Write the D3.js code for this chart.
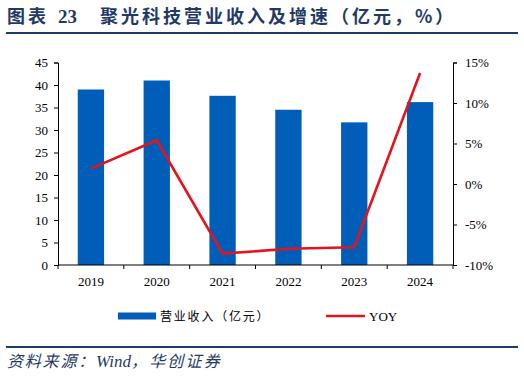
<!DOCTYPE html>
<html>
<head>
<meta charset="utf-8">
<script src="https://cdn.jsdelivr.net/npm/d3@7"></script>
<style>
  body { margin: 0; background: #fff; }
  svg { display: block; }
</style>
</head>
<body>
<script>
const WIDTH = 524;
const HEIGHT = 378;

// 数据
const years = ['2019', '2020', '2021', '2022', '2023', '2024'];
const revenue = [39.0, 41.0, 37.6, 34.5, 31.7, 36.2];   // 营业收入（亿元）
const yoy = [1.9, 5.4, -8.6, -8.0, -7.8, 13.7];          // YOY（%）
const leftTicks = [0, 5, 10, 15, 20, 25, 30, 35, 40, 45];
const rightTicks = [-10, -5, 0, 5, 10, 15];

const NAVY = '#1F3A68';
const BLUE = '#005EB8';
const RED = '#E3141E';
const SERIF = '"Liberation Serif", "Times New Roman", serif';
const CJK = '"Noto Sans CJK SC", sans-serif';

let svg = d3.select('body').append('svg')
    .attr('width', WIDTH)
    .attr('height', HEIGHT);

// 标题
let title = svg.append('g')
    .attr('fill', NAVY)
    .style('font-weight', 'bold');
title.append('text')
    .attr('x', 7).attr('y', 23)
    .style('font-family', CJK)
    .style('font-size', '18px')
    .style('letter-spacing', '3px')
    .text('图表');
title.append('text')
    .attr('x', 58).attr('y', 23)
    .style('font-family', SERIF)
    .style('font-size', '19px')
    .text('23');
title.append('text')
    .attr('x', 100).attr('y', 23)
    .style('font-family', CJK)
    .style('font-size', '18px')
    .style('letter-spacing', '3px')
    .text('聚光科技营业收入及增速（亿元，%）');

svg.append('line')
    .attr('x1', 6).attr('x2', 518)
    .attr('y1', 33).attr('y2', 33)
    .attr('stroke', NAVY).attr('stroke-width', 2);

const margin = { left: 58, right: 453, top: 62.5, bottom: 265 };

let x = d3.scaleBand()
    .domain(years)
    .range([margin.left, margin.right])
    .paddingInner(0.6)
    .paddingOuter(0.3);

let yL = d3.scaleLinear().domain([0, 45]).range([margin.bottom, margin.top]);
let yR = d3.scaleLinear().domain([-10, 15]).range([margin.bottom, margin.top]);

// 柱
svg.append('g').selectAll('rect')
    .data(revenue)
    .join('rect')
    .attr('x', (d, i) => x(years[i]))
    .attr('y', d => yL(d))
    .attr('width', x.bandwidth())
    .attr('height', d => yL(0) - yL(d))
    .attr('fill', BLUE);

// 折线
let line = d3.line()
    .x((d, i) => x(years[i]) + x.bandwidth() / 2)
    .y(d => yR(d));

svg.append('path')
    .datum(yoy)
    .attr('d', line)
    .attr('fill', 'none')
    .attr('stroke', RED)
    .attr('stroke-width', 2.6)
    .attr('stroke-linejoin', 'miter');

// 坐标轴
let axisL = svg.append('g')
    .attr('transform', `translate(${margin.left},0)`)
    .call(d3.axisLeft(yL).tickValues(leftTicks).tickSize(4).tickPadding(6));

let axisR = svg.append('g')
    .attr('transform', `translate(${margin.right},0)`)
    .call(d3.axisRight(yR).tickValues(rightTicks).tickSize(4).tickPadding(8)
        .tickFormat(d => d + '%'));

// x 轴：刻度在类别之间
let bounds = d3.range(years.length + 1).map(i => margin.left + i * (margin.right - margin.left) / years.length);
let axisX = svg.append('g');
axisX.append('line')
    .attr('x1', margin.left).attr('x2', margin.right)
    .attr('y1', margin.bottom).attr('y2', margin.bottom)
    .attr('stroke', '#000');
axisX.selectAll('.tk')
    .data(bounds)
    .join('line')
    .attr('x1', d => d).attr('x2', d => d)
    .attr('y1', margin.bottom).attr('y2', margin.bottom + 4)
    .attr('stroke', '#000');
axisX.selectAll('text')
    .data(years)
    .join('text')
    .attr('x', d => x(d) + x.bandwidth() / 2)
    .attr('y', 286)
    .attr('text-anchor', 'middle')
    .style('font-family', SERIF)
    .style('font-size', '13px')
    .text(d => d);

[axisL, axisR].forEach(g => {
    g.select('.domain').attr('stroke', '#000');
    g.selectAll('.tick line').attr('stroke', '#000');
    g.selectAll('.tick text')
        .attr('fill', '#000')
        .style('font-family', SERIF)
        .style('font-size', '13px');
});

// 图例
let legend = svg.append('g');
legend.append('rect')
    .attr('x', 118).attr('y', 312.5)
    .attr('width', 38).attr('height', 7)
    .attr('fill', BLUE);
legend.append('text')
    .attr('x', 160).attr('y', 320.5)
    .style('font-family', CJK)
    .style('font-size', '12px')
    .style('letter-spacing', '1.8px')
    .text('营业收入（亿元）');
legend.append('line')
    .attr('x1', 326).attr('x2', 365)
    .attr('y1', 316).attr('y2', 316)
    .attr('stroke', RED).attr('stroke-width', 2.6);
legend.append('text')
    .attr('x', 369).attr('y', 320.5)
    .style('font-family', SERIF)
    .style('font-size', '13px')
    .text('YOY');

// 来源
svg.append('line')
    .attr('x1', 6).attr('x2', 518)
    .attr('y1', 347).attr('y2', 347)
    .attr('stroke', NAVY).attr('stroke-width', 2);
let src = svg.append('text')
    .attr('x', 7).attr('y', 367)
    .attr('fill', NAVY)
    .style('font-family', CJK)
    .style('font-style', 'italic')
    .style('font-size', '16px');
src.append('tspan').style('letter-spacing', '1.8px').text('资料来源：');
src.append('tspan').style('font-family', SERIF).style('font-size', '17px').text('Wind');
src.append('tspan').style('letter-spacing', '2.2px').text('，华创证券');
</script>
</body>
</html>
